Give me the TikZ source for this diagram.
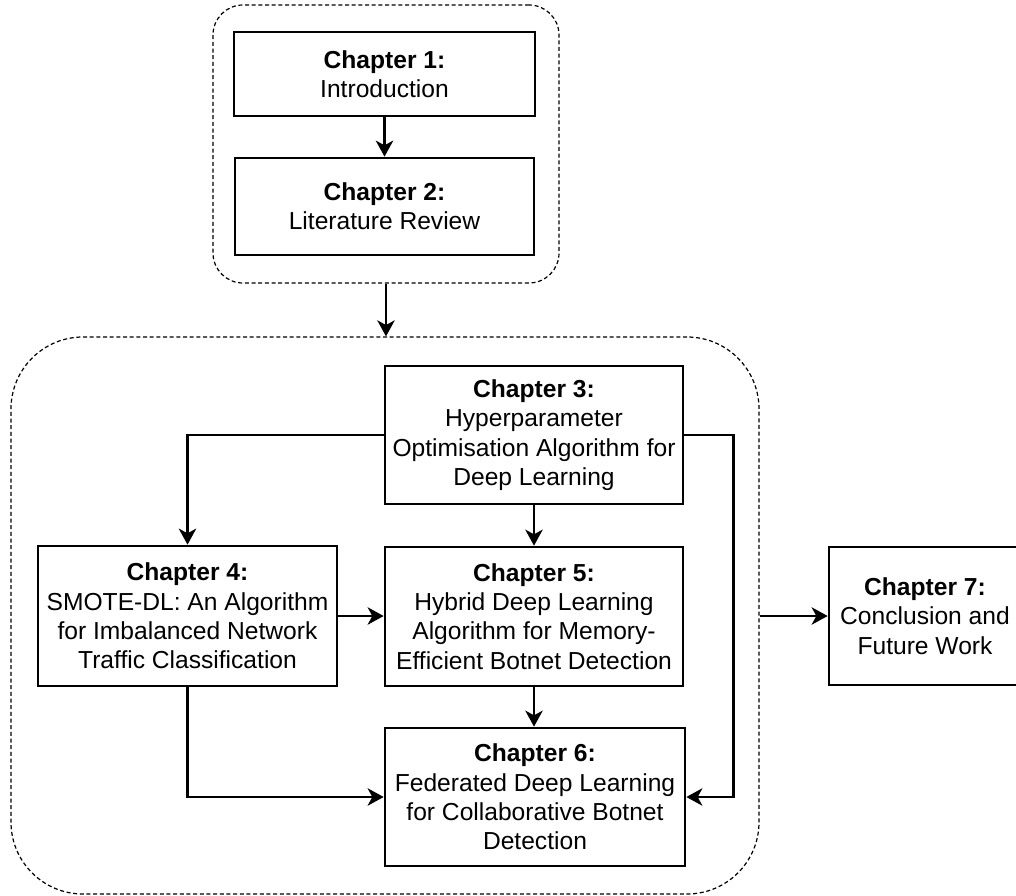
\documentclass[tikz,border=0pt]{standalone}
\usepackage{fontspec}
\setmainfont{Liberation Sans}
\usetikzlibrary{arrows.meta}
\begin{document}
\begin{tikzpicture}[x=0.75pt,y=-0.75pt,
  chap/.style={draw=black, line width=2pt, fill=white, align=center,
    inner sep=1pt, font=\fontsize{18.45}{22}\selectfont},
  grp/.style={draw=black, line width=0.9pt, dash pattern=on 3pt off 2pt},
  link/.style={line width=1.9pt,
    -{Stealth[length=12pt,width=13pt,inset=3.5pt]}}]
\useasboundingbox (0,0) rectangle (1016,895);

% dashed groupings of chapters
\node[grp, rounded corners=22.5pt, minimum width=259.5pt, minimum height=208.5pt]
  (topgrp) at (386,144) {};
\node[grp, rounded corners=54pt, minimum width=561pt, minimum height=417.75pt]
  (biggrp) at (385,615.5) {};

% chapter boxes
\node[chap, minimum width=225.75pt, minimum height=63pt] (ch1) at (384.5,74)
  {\textbf{Chapter 1:}\\Introduction};
\node[chap, minimum width=224.25pt, minimum height=72.75pt] (ch2) at (384.5,206.5)
  {\textbf{Chapter 2:}\\Literature Review};
\node[chap, minimum width=223.5pt, minimum height=103.5pt] (ch3) at (534,435)
  {\textbf{Chapter 3:}\\Hyperparameter\\Optimisation Algorithm for\\Deep Learning};
\node[chap, minimum width=224.25pt, minimum height=105pt] (ch4) at (187.5,616)
  {\textbf{Chapter 4:}\\SMOTE-DL: An Algorithm\\for Imbalanced Network\\Traffic Classification};
\node[chap, minimum width=223.5pt, minimum height=104.25pt] (ch5) at (534,616.5)
  {\textbf{Chapter 5:}\\Hybrid Deep Learning\\Algorithm for Memory-\\Efficient Botnet Detection};
\node[chap, minimum width=225pt, minimum height=103.5pt] (ch6) at (535,797)
  {\textbf{Chapter 6:}\\Federated Deep Learning\\for Collaborative Botnet\\Detection};
\node[chap, minimum width=144pt, minimum height=103.5pt] (ch7) at (925,616)
  {\textbf{Chapter 7:}\\Conclusion and\\Future Work};

% connectors
\draw[link] (ch1) -- (ch2);
\draw[link] (topgrp.south) -- (topgrp.south |- biggrp.north);
\draw[link] (ch3) -- (ch5);
\draw[link] (ch3.west) -| (ch4.north);
\draw[link] (ch3.east) -- ++(49,0) |- (ch6.east);
\draw[link] (ch4.east) -- (ch4.east -| ch5.west);
\draw[link] (ch4.south) |- (ch6.west);
\draw[link] (ch5.south) -- (ch5.south |- ch6.north);
\draw[link] (biggrp.east |- ch7.west) -- (ch7.west);
\end{tikzpicture}
\end{document}
